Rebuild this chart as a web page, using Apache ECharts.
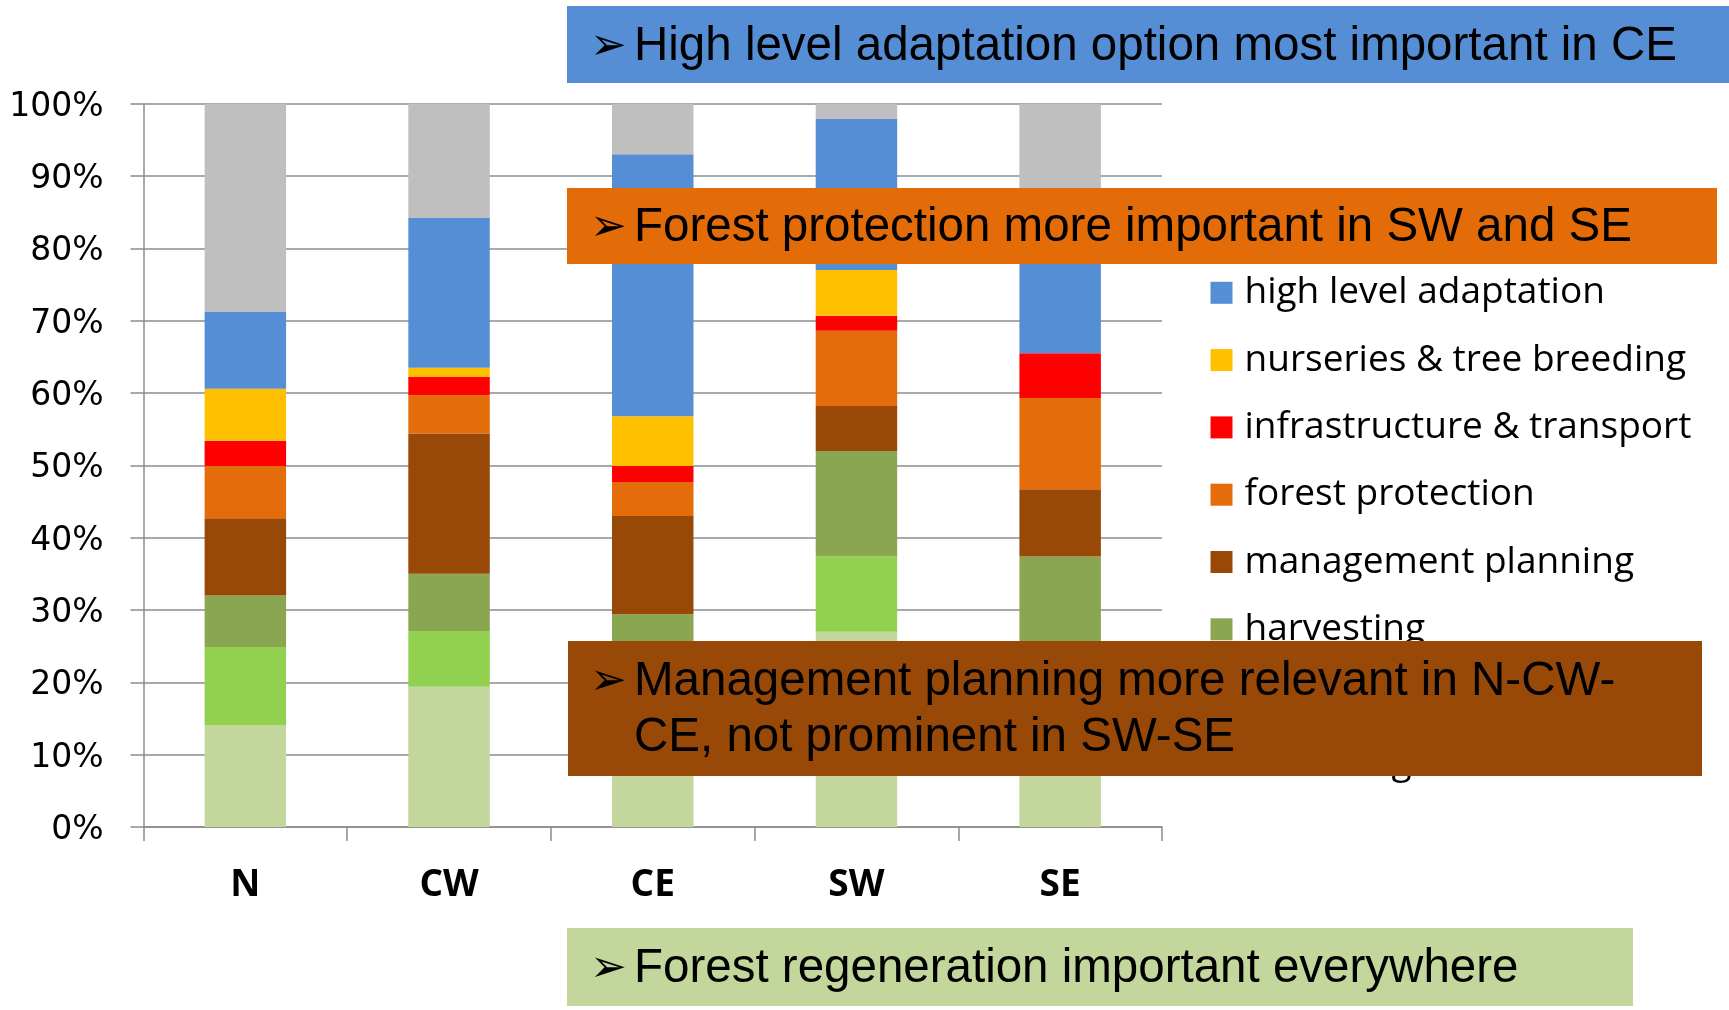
<!DOCTYPE html>
<html lang="en">
<head>
  <meta charset="UTF-8">
  <title>Adaptation options by region</title>
  <script src="https://cdn.jsdelivr.net/npm/echarts@6/dist/echarts.min.js"></script>
  <style>
    html, body { margin: 0; padding: 0; background: #fff; }
  </style>
</head>
<body>
<div id="main" style="width: 1729px;height:1010px;"></div>
<script type="text/javascript">
    // regions on the x axis
    var regions = ['N', 'CW', 'CE', 'SW', 'SE'];

    // shares in % per region, bottom of the stack first
    var regeneration   = [14.1, 19.4, 19.0, 27.0, 20.0];
    var tending        = [10.8,  7.7,  5.6, 10.4,  4.0];
    var harvesting     = [ 7.1,  7.9,  4.8, 14.6, 13.4];
    var management     = [10.7, 19.4, 13.6,  6.2,  9.3];
    var protection     = [ 7.2,  5.3,  4.7, 10.4, 12.6];
    var infrastructure = [ 3.5,  2.5,  2.2,  2.1,  6.2];
    var nurseries      = [ 7.2,  1.3,  6.9,  6.3,  0.0];
    var highLevel      = [10.6, 20.7, 36.2, 20.9, 17.5];
    var other          = [28.8, 15.8,  7.0,  2.1, 17.0];

    var yTicks = [0, 10, 20, 30, 40, 50, 60, 70, 80, 90, 100];

    var myChart = echarts.init(document.getElementById('main'));

    // name, values, colour — stacked bottom to top
    var stackDef = [
        ['forest regeneration', regeneration, '#C3D69B'],
        ['tending', tending, '#92D050'],
        ['harvesting', harvesting, '#8BA651'],
        ['management planning', management, '#984807'],
        ['forest protection', protection, '#E46C0A'],
        ['infrastructure & transport', infrastructure, '#FF0000'],
        ['nurseries & tree breeding', nurseries, '#FFC000'],
        ['high level adaptation', highLevel, '#558ED5'],
        ['other', other, '#BFBFBF']
    ];

    var series = stackDef.map(function (d) {
        return {
            name: d[0],
            type: 'bar',
            stack: 'all',
            barWidth: '40%',
            itemStyle: { color: d[2] },
            emphasis: { disabled: true },
            data: d[1]
        };
    });

    // legend lists the top of the stack first, like the original
    var legendNames = stackDef.map(function (d) { return d[0]; }).reverse();

    var boxFont = '47.5px "Liberation Sans", Arial, sans-serif';
    var arrowFont = '44px "DejaVu Sans", sans-serif';

    // a coloured note box with the arrow bullet and one or more lines
    function note(x, y, w, h, fill, lines, lineY) {
        var els = [{
            type: 'rect', z: 100,
            shape: { x: x, y: y, width: w, height: h },
            style: { fill: fill }
        }, {
            type: 'text', z: 101, x: 590, y: lineY[0] + 1,
            style: { text: '\u27A2', font: arrowFont, fill: '#000', verticalAlign: 'middle' }
        }];
        lines.forEach(function (t, i) {
            els.push({
                type: 'text', z: 101, x: 634, y: lineY[i],
                style: { text: t, font: boxFont, fill: '#000', verticalAlign: 'middle' }
            });
        });
        return els;
    }

    var graphics = [].concat(
        note(567, 6, 1162, 77, '#558ED5', ['High level adaptation option most important in CE'], [47]),
        note(567, 188, 1150, 76, '#E36C09', ['Forest protection more important in SW and SE'], [228]),
        note(568, 641, 1134, 135, '#984807',
            ['Management planning more relevant in N-CW-', 'CE, not prominent in SW-SE'], [682, 738]),
        note(567, 928, 1066, 78, '#C3D69B', ['Forest regeneration important everywhere'], [969])
    );

    option = {
        animation: false,
        grid: {
            left: 143.5,
            right: 567,
            top: 103.7,
            bottom: 183
        },
        legend: {
            orient: 'vertical',
            left: 1205.5,
            top: 202,
            itemWidth: 22,
            itemHeight: 22,
            itemGap: 30.3,
            icon: 'rect',
            selectedMode: false,
            data: legendNames,
            textStyle: {
                fontFamily: '"Open Sans", sans-serif',
                fontSize: 37,
                lineHeight: 37,
                color: '#000',
                padding: [0, 0, 0, 7]
            }
        },
        xAxis: {
            type: 'category',
            data: regions,
            axisLine: { lineStyle: { color: '#8C8C8C', width: 1.5 } },
            axisTick: { show: true, length: 14, lineStyle: { color: '#8C8C8C', width: 1.5 } },
            axisLabel: {
                margin: 40,
                color: '#000',
                fontFamily: '"Open Sans", sans-serif',
                fontWeight: 'bold',
                fontSize: 37
            }
        },
        yAxis: {
            type: 'value',
            min: yTicks[0],
            max: yTicks[yTicks.length - 1],
            interval: 10,
            axisLine: { show: true, lineStyle: { color: '#8C8C8C', width: 1.5 } },
            axisTick: { show: true, length: 13, lineStyle: { color: '#8C8C8C', width: 1.5 } },
            splitLine: { lineStyle: { color: '#8C8C8C', width: 1.5 } },
            axisLabel: {
                margin: 40,
                formatter: '{p|{value}%}',
                rich: {
                    p: {
                        color: '#000',
                        fontFamily: '"DejaVu Sans", Verdana, sans-serif',
                        fontSize: 33,
                        padding: [7, 0, 0, 0]
                    }
                }
            }
        },
        graphic: graphics,
        series: series
    };

    myChart.setOption(option);
</script>
</body>
</html>
